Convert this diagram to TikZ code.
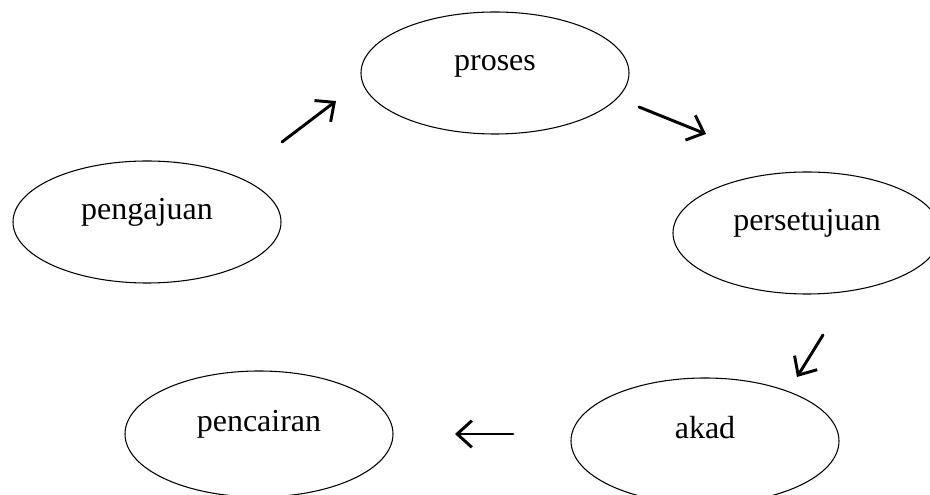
\documentclass[tikz,border=0pt]{standalone}
\usepackage{fontspec}
\setmainfont{Liberation Serif}
\usetikzlibrary{shapes}
\usetikzlibrary{arrows.meta}

\begin{document}
\begin{tikzpicture}[x=0.375pt,y=-0.375pt]
  \tikzset{StageStyle/.style = {
    shape          = ellipse,
    draw           = black,
    line width     = 0.4pt,
    text           = black,
    inner sep      = 0pt,
    outer sep      = 0pt,
    minimum width  = 100.5pt,
    minimum height = 45.75pt,
    text height    = 6pt,
    text depth     = 8pt,
    font           = \fontsize{12}{14}\selectfont
    }
  }
  \tikzset{FlowStyle/.style = {
    draw       = black,
    line width = 1.1pt,
    line cap   = round,
    -{Straight Barb[length=5.5pt,width=10pt]}
    }
  }

	\useasboundingbox (0,0) rectangle (930,495);
	\node[StageStyle](proses) at (495,73) {proses};
	\node[StageStyle](pengajuan) at (147,222) {pengajuan};
	\node[StageStyle](persetujuan) at (807,233) {persetujuan};
	\node[StageStyle,minimum height=47.25pt](akad) at (705,441) {akad};
	\node[StageStyle,minimum height=47.25pt](pencairan) at (259,434) {pencairan};

	\coordinate (F1a) at (282,142);
	\coordinate (F1b) at (336,101);
	\coordinate (F2a) at (639,107);
	\coordinate (F2b) at (706,134);
	\coordinate (F3a) at (823,335);
	\coordinate (F3b) at (797,377);
	\coordinate (F4a) at (513,434);
	\coordinate (F4b) at (455,434);
	\draw[FlowStyle](F1a) -- (F1b);
	\draw[FlowStyle](F2a) -- (F2b);
	\draw[FlowStyle](F3a) -- (F3b);
	\draw[FlowStyle](F4a) -- (F4b);
\end{tikzpicture}
\end{document}
